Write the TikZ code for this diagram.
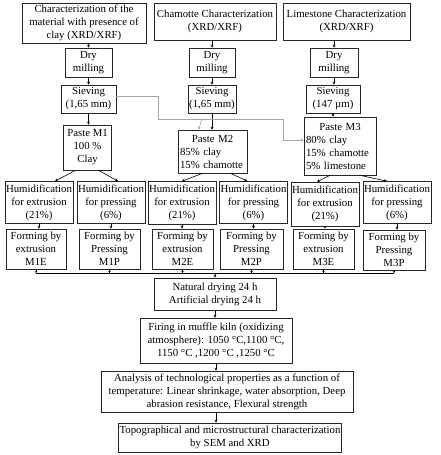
\documentclass[tikz,border=0pt]{standalone}
\usepackage{fontspec}
\setmainfont{Liberation Serif}
\usetikzlibrary{arrows.meta}

\tikzset{
  box/.style={draw=black!85, line width=0.6pt, align=center, inner sep=1pt,
    font=\fontsize{10.8}{13}\selectfont},
  lbox/.style={box, align=left, inner xsep=2pt},
  arr/.style={-{Stealth[length=3pt,width=3pt]}, line width=0.6pt},
  grayline/.style={gray!70, line width=0.8pt}
}

\begin{document}
\begin{tikzpicture}[x=1pt, y=-1pt]
    \useasboundingbox (0,0) rectangle (441,455);

    % Characterization
    \node[box, minimum width=124pt, minimum height=40pt] (charA) at (84,23)
        {Characterization of the\\ material with presence of\\ clay (XRD/XRF)};
    \node[box, minimum width=122pt, minimum height=37pt] (charB) at (215,21.5)
        {Chamotte Characterization\\ (XRD/XRF)};
    \node[box, minimum width=127pt, minimum height=37pt] (charC) at (346.5,21.5)
        {Limestone Characterization\\ (XRD/XRF)};

    % Dry milling
    \node[box, minimum width=47pt, minimum height=29pt] (mill1) at (88.5,62.5) {Dry\\ milling};
    \node[box, minimum width=46pt, minimum height=29pt] (mill2) at (212,62.5) {Dry\\ milling};
    \node[box, minimum width=48pt, minimum height=29pt] (mill3) at (334,62.5) {Dry\\ milling};

    % Sieving
    \node[box, minimum width=55pt, minimum height=28pt] (sieve1) at (88.5,99) {Sieving\\ (1,65 mm)};
    \node[box, minimum width=48pt, minimum height=28pt] (sieve2) at (212,99) {Sieving\\ (1,65 mm)};
    \node[box, minimum width=54pt, minimum height=28pt] (sieve3) at (333,99) {Sieving\\ (147 µm)};

    % Pastes
    \node[box, minimum width=48pt, minimum height=45pt] (paste1) at (87.5,147.5) {Paste M1\\ 100 \%\\ Clay};
    \node[lbox, text width=65pt, minimum height=43pt] (paste2) at (212.5,151.5)
        {\hfil Paste M2\hfil\\ 85\% clay\\ 15\% chamotte};
    \node[lbox, text width=68pt, minimum height=58pt] (paste3) at (340,146)
        {\hfil Paste M3\hfil\\ 80\% clay\\ 15\% chamotte\\ 5\% limestone};

    % Humidification
    \node[box, minimum width=68pt, minimum height=42pt] (hum1) at (39,202.5) {Humidification\\ for extrusion\\ (21\%)};
    \node[box, minimum width=68pt, minimum height=42pt] (hum2) at (111,202.5) {Humidification\\ for pressing\\ (6\%)};
    \node[box, minimum width=67pt, minimum height=43pt] (hum3) at (182,203) {Humidification\\ for extrusion\\ (21\%)};
    \node[box, minimum width=67pt, minimum height=42pt] (hum4) at (253.5,202.5) {Humidification\\ for pressing\\ (6\%)};
    \node[box, minimum width=68pt, minimum height=44pt] (hum5) at (325,204) {Humidification\\ for extrusion\\ (21\%)};
    \node[box, minimum width=68pt, minimum height=42pt] (hum6) at (397,202.5) {Humidification\\ for pressing\\ (6\%)};

    % Forming
    \node[box, minimum width=60pt, minimum height=40pt] (form1) at (36,249) {Forming by\\ extrusion\\ M1E};
    \node[box, minimum width=61pt, minimum height=40pt] (form2) at (109.5,249) {Forming by\\ Pressing\\ M1P};
    \node[box, minimum width=61pt, minimum height=40pt] (form3) at (182.5,249) {Forming by\\ extrusion\\ M2E};
    \node[box, minimum width=63pt, minimum height=40pt] (form4) at (251.5,249) {Forming by\\ Pressing\\ M2P};
    \node[box, minimum width=61pt, minimum height=40pt] (form5) at (323.5,249) {Forming by\\ extrusion\\ M3E};
    \node[box, minimum width=62pt, minimum height=40pt] (form6) at (394,250) {Forming by\\ Pressing\\ M3P};

    % Drying, firing, analysis
    \node[box, minimum width=122pt, minimum height=32pt] (drying) at (215,294)
        {Natural drying 24 h\\ Artificial drying 24 h};
    \node[box, minimum width=152pt, minimum height=45pt] (firing) at (216,340.5)
        {Firing in muffle kiln (oxidizing\\ atmosphere): 1050 °C,1100 °C,\\ 1150 °C ,1200 °C ,1250 °C};
    \node[box, minimum width=252pt, minimum height=41pt] (analysis) at (227,391.5)
        {Analysis of technological properties as a function of\\ temperature: Linear shrinkage, water absorption, Deep\\ abrasion resistance, Flexural strength};
    \node[box, minimum width=216pt, minimum height=29pt] (topo) at (230,437.5)
        {Topographical and microstructural characterization\\ by SEM and XRD};

    % Columns
    \foreach \i in {1,2,3} {
        \draw[arr] (sieve\i.south) -- (paste\i.north -| sieve\i.south);
        \draw[arr] (mill\i.south) -- (sieve\i.north -| mill\i.south);
    }
    \draw[arr] (charA.south -| mill1.north) -- (mill1.north);
    \draw[arr] (charB.south -| mill2.north) -- (mill2.north);
    \draw[arr] (charC.south -| mill3.north) -- (mill3.north);

    % Pastes to humidification
    \draw[arr] ([xshift=-12pt]paste1.south) -- ([xshift=16pt]hum1.north);
    \draw[arr] ([xshift=11pt]paste1.south) -- ([xshift=7pt]hum2.north);
    \draw[arr] ([xshift=-10pt]paste2.south) -- (hum3.north);
    \draw[arr] ([xshift=18pt]paste2.south) -- ([xshift=-6pt]hum4.north);
    \draw[arr] ([xshift=-10pt]paste3.south) -- ([xshift=-8pt]hum5.north);
    \draw[arr] ([xshift=20pt]paste3.south) -- ([xshift=-10pt]hum6.north);

    % Humidification to forming
    \foreach \i in {1,...,6}
        \draw[arr] (hum\i.south) -- (form\i.north -| hum\i.south);

    % Collector line
    \coordinate (bus) at (215,273);
    \draw[line width=0.6pt] (form1.south |- bus) -- (form6.south |- bus);
    \foreach \i in {1,...,6}
        \draw[-{Stealth[length=2pt,width=2.5pt]}, line width=0.6pt] (form\i.south) -- (form\i.south |- bus);
    \draw[arr] (bus) -- (drying.north);
    \draw[arr] (drying.south) -- (drying.south |- firing.north);
    \draw[arr] (firing.south) -- (firing.south |- analysis.north);
    \draw[arr] (analysis.south -| firing.south) -- (topo.north -| firing.south);

    % Gray connections
    \coordinate (g1) at (158,119);
    \coordinate (g2) at (283,119);
    \coordinate (g3) at (202,119);
    \draw[grayline] ([yshift=3pt]sieve1.east) -| (g1) -- (g2);
    \draw[grayline, arr] (g2) |- ([yshift=6pt]paste3.west);
    \draw[grayline, arr] (g3) -- ([xshift=-14pt]paste2.north);
\end{tikzpicture}
\end{document}
